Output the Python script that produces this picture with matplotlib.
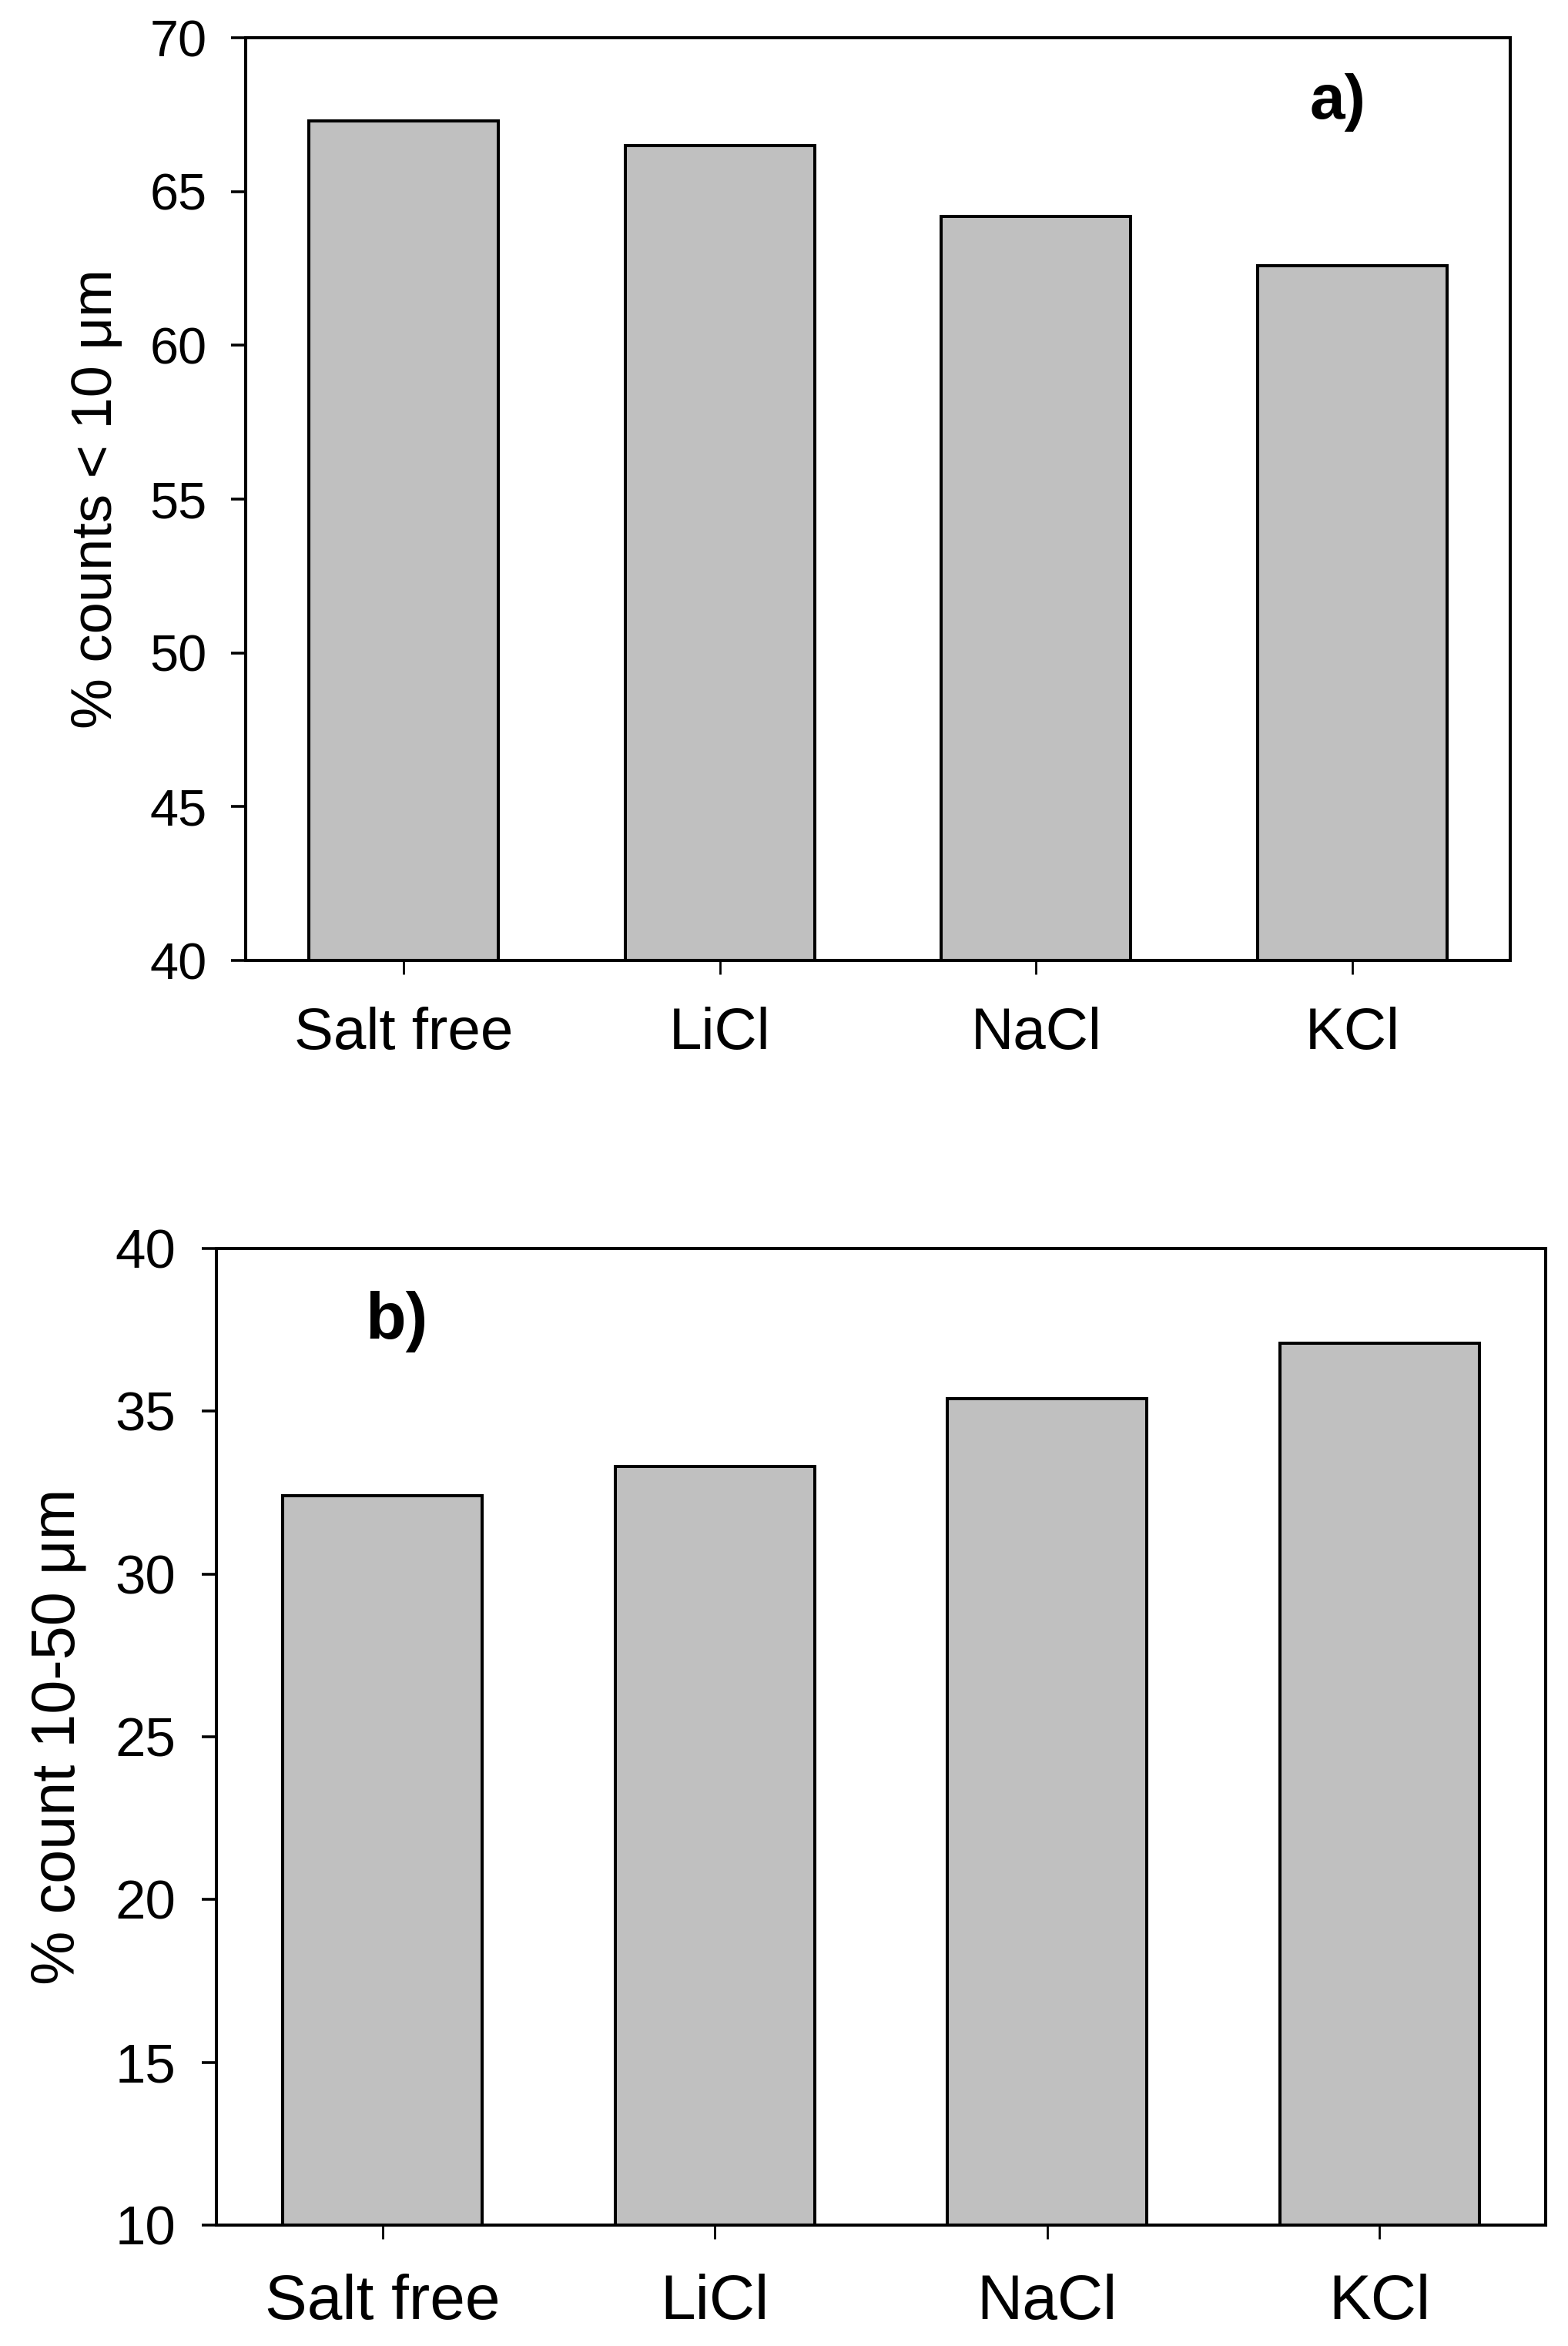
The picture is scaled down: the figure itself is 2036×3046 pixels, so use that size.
import numpy as np
import matplotlib
matplotlib.use("Agg")
import matplotlib.pyplot as plt

# === Data ===
salts = ["Salt free", "LiCl", "NaCl", "KCl"]
counts_below_10 = [67.3, 66.5, 64.2, 62.6]
counts_10_50 = [32.4, 33.3, 35.4, 37.1]

plt.rcParams['font.family'] = ['Liberation Sans', 'DejaVu Sans']

fig = plt.figure(figsize=(10.18, 15.23), dpi=200)

bar_color = '#c0c0c0'
lw = 1.45


# === Axis styling ===
def style_axis(ax, ysize, xsize, ypad, xpad):
    for side in ['top', 'right', 'bottom', 'left']:
        ax.spines[side].set_linewidth(lw)
    ax.tick_params(axis='y', direction='out', length=6.8, width=1.3,
                   labelsize=ysize, pad=ypad, right=False)
    ax.tick_params(axis='x', direction='out', length=6.6, width=1.0,
                   labelsize=xsize, pad=xpad, top=False)


# === Panel a ===
ax1 = fig.add_axes([0.1567, 0.5906, 0.8065, 0.3933])
x = np.arange(len(salts))
ax1.bar(x, counts_below_10, width=0.6, color=bar_color, edgecolor='black',
        linewidth=lw)
ax1.set_xlim(-0.5, 3.5)
ax1.set_ylim(40, 70)
ax1.set_yticks(np.arange(40, 71, 5))
ax1.set_xticks(x)
ax1.set_xticklabels(salts)
style_axis(ax1, 24, 27.5, 11.2, 15)
ax1.set_ylabel('% counts < 10 \u03bcm', fontsize=26.7)
ax1.yaxis.set_label_coords(-0.097, 0.5)
ax1.text(0.8636, 0.93, 'a)', transform=ax1.transAxes, fontsize=29.5,
         fontweight='bold', ha='center', va='center')

# === Panel b ===
ax2 = fig.add_axes([0.138, 0.0515, 0.8477, 0.4163])
ax2.bar(x, counts_10_50, width=0.6, color=bar_color, edgecolor='black',
        linewidth=lw)
ax2.set_xlim(-0.5, 3.5)
ax2.set_ylim(10, 40)
ax2.set_yticks(np.arange(10, 41, 5))
ax2.set_xticks(x)
ax2.set_xticklabels(salts)
style_axis(ax2, 25.5, 29.5, 12.3, 16)
ax2.set_ylabel('% count 10-50 \u03bcm', fontsize=28.5)
ax2.yaxis.set_label_coords(-0.0973, 0.5)
ax2.text(0.1356, 0.925, 'b)', transform=ax2.transAxes, fontsize=31,
         fontweight='bold', ha='center', va='center')

fig.savefig('out.png', dpi=200)
